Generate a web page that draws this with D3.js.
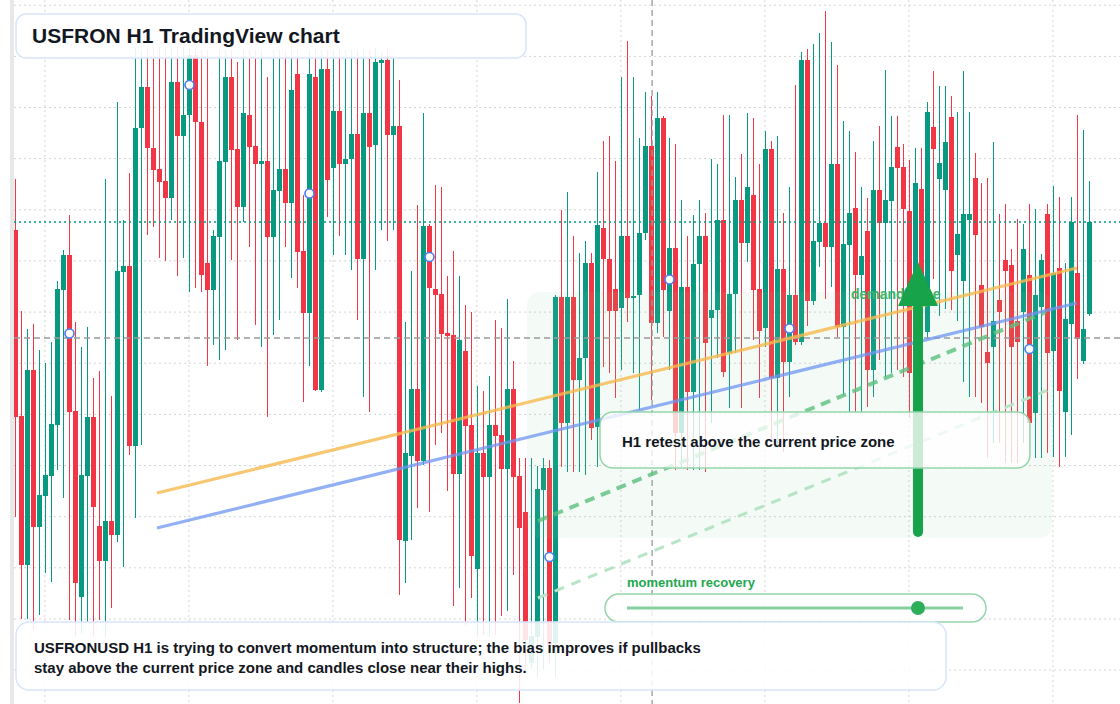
<!DOCTYPE html>
<html><head><meta charset="utf-8">
<script src="https://cdn.jsdelivr.net/npm/d3@7"></script>
<style>
html,body{margin:0;padding:0;background:#fff;overflow:hidden}
svg{display:block}
text{font-family:"Liberation Sans",Arial,Helvetica,sans-serif}
</style>
</head><body>
<svg id="chart" width="1120" height="704"></svg>
<script>
// ---- data (price units) ----
const open=[480,294,145,340,183,214,234,285,420,455, 299,113,234,293,184,149,189,175,438,444,
264,582,623,562,541,529,512,628,574,595, 655,588,447,420,473,548,633,561,503,595,
564,546,549,473,519,541,507,636,459,397, 633,320,641,542,599,546,551,576,451,597,
565,647,650,575,584,169,254,321,249,484, 421,416,377,375,236,359,285,141,257,233,
285,275,241,321,234,198,47,73,220,242, 67,413,287,413,330,352,447,283,482,451,
421,402,474,412,415,477,564,387,592,399, 462,277,423,318,446,474,392,400,490,357,
416,510,467,515,421,382,561,332,441,348, 415,368,650,409,468,487,463,546,383,465,
502,435,479,340,520,487,509,563,543,499, 420,521,378,583,531,520,593,455,429,490,
532,425,358,363,410,450,445,389,398,435, 297,403,496,359,442,298,386,437,349,396];
const high=[531,399,381,386,360,347,368,429,460,495, 388,363,383,332,339,531,314,608,490,537,
662,660,662,663,663,663,663,663,663,662, 662,660,660,480,660,660,660,648,660,660,
660,660,633,660,660,660,660,660,515,660, 660,660,660,660,660,660,660,660,660,660,
662,658,660,652,630,388,439,505,597,486, 525,523,434,459,434,405,398,324,319,334,
390,382,411,349,252,252,252,244,252,250, 415,500,518,474,457,469,457,538,569,574,
549,633,669,633,572,618,614,618,594,572, 566,510,474,495,510,497,551,546,595,595,
533,556,597,592,546,579,569,574,497,523, 625,658,661,666,677,699,668,645,589,579,
558,523,512,569,584,640,594,594,566,550, 562,562,608,639,624,624,614,598,639,598,
557,527,532,568,496,506,461,491,486,506, 501,456,506,524,513,447,513,595,580,529];
const low=[193,91,91,79,95,137,128,240,212,90, 74,77,88,73,90,73,102,168,143,255,
192,265,475,483,452,449,490,434,452,418, 422,418,344,365,350,360,450,370,488,463,
385,363,293,375,390,463,432,422,308,344, 319,318,493,455,474,455,440,390,313,298,
440,480,469,480,115,127,170,202,245,198, 265,277,219,104,122,85,112,73,75,73,
75,94,99,135,7,40,42,33,40,47, 33,243,238,238,238,235,270,243,343,337,
312,340,388,337,300,470,310,377,373,340, 240,243,240,240,240,238,287,352,333,302,
357,302,448,370,312,363,270,262,258,313, 365,365,384,405,443,411,423,373,315,298,
298,298,303,313,350,333,337,340,333,292, 290,310,372,431,394,401,400,389,328,313,
313,307,252,267,267,247,247,247,267,252, 252,252,257,253,243,253,275,331,346,394];
const close=[293,145,340,183,215,235,286,421,455,298, 127,235,293,203,149,189,175,439,444,264,
582,623,562,540,528,512,628,574,595,655, 588,435,420,474,549,633,560,503,597,563,
546,549,473,520,541,507,620,458,397,636, 320,641,530,599,546,551,576,451,597,563,
648,650,575,584,170,257,321,249,484,422, 415,376,374,236,370,284,154,257,233,285,
274,241,321,233,182,70,74,221,242,64, 413,287,413,330,352,447,282,485,451,399,
399,474,412,414,477,564,387,592,420,462, 277,423,318,446,474,367,400,490,338,416,
510,467,523,420,379,561,332,441,348,415, 368,650,409,469,487,463,546,383,466,497,
435,454,340,520,487,510,543,542,501,337, 527,410,598,561,547,568,439,476,496,496,
475,383,347,389,398,439,363,368,461,287, 415,450,357,437,319,391,488,371,381,488];

const gridPrices=[704.8,653.6,602.5,551.4,500.2,449.1,397.9,346.8,295.6,244.5,193.3,142.2,91,39.9];
const gridIdx=[4.9,28.9,52.9,76.9,100.9,124.9,148.9,172.9];
const markerIdx=[9,29,49,69,89,109,129,149,169];
const currentPrice=488;      // teal dotted
const crossPrice=372;        // gray dashed horizontal
const crossIdx=106.1;        // gray dashed vertical
const orangeLine=[[23.58,217],[176.9,442]];
const blueLine=[[23.58,182],[176.9,407]];
const dashLine=[[87.08,189],[171.75,398]];
const lightDash=[[87.08,112],[172.08,320]];
const zoneIdx=[85.25,172.75], zonePrice=[418,172];
const arrowIdx=150.42, arrowPrice=[178,404,448];

const titleText="USFRON H1 TradingView chart";
const noteLines=["USFRONUSD H1 is trying to convert momentum into structure; the bias improves if pullbacks",
"stay above the current price zone and candles close near their highs."];
const calloutText="H1 retest above the current price zone";
const zoneLabel="demand zone";
const momentumLabel="momentum recovery";

// ---- scales ----
const W=1120,H=704;
const x=d3.scaleLinear().domain([0,179]).range([15.5,1089.5]);
const y=d3.scaleLinear().domain([0,710]).range([710,0]);
const GREEN="#089981", RED="#f23645";

const svg=d3.select("#chart");
svg.append("rect").attr("width",W).attr("height",H).attr("fill","#fff");
const defs=svg.append("defs");
defs.append("clipPath").attr("id","plot").append("rect").attr("x",14).attr("y",0).attr("width",W-14).attr("height",H);

const plot=svg.append("g").attr("clip-path","url(#plot)");

// grid
plot.append("g").selectAll("line").data(gridPrices).join("line")
  .attr("x1",14).attr("x2",W).attr("y1",d=>y(d)).attr("y2",d=>y(d))
  .attr("stroke","#d4d4d4").attr("stroke-width",1).attr("stroke-dasharray","2 3");
plot.append("g").selectAll("line").data(gridIdx).join("line")
  .attr("x1",d=>x(d)).attr("x2",d=>x(d)).attr("y1",0).attr("y2",H)
  .attr("stroke","#d4d4d4").attr("stroke-width",1).attr("stroke-dasharray","2 3");

// candles
const idx=d3.range(open.length);
const cg=plot.append("g");
cg.selectAll("line.w").data(idx).join("line").attr("class","w")
  .attr("x1",i=>x(i)).attr("x2",i=>x(i))
  .attr("y1",i=>y(high[i])).attr("y2",i=>y(low[i]))
  .attr("stroke",i=>close[i]>=open[i]?GREEN:RED).attr("stroke-width",1);
const bw=5;
cg.selectAll("rect.b").data(idx).join("rect").attr("class","b")
  .attr("x",i=>x(i)-bw/2).attr("width",bw)
  .attr("y",i=>y(Math.max(open[i],close[i])))
  .attr("height",i=>Math.max(1.5,Math.abs(y(open[i])-y(close[i]))))
  .attr("fill",i=>close[i]>=open[i]?GREEN:RED);

// demand zone overlay
plot.append("rect").attr("x",x(zoneIdx[0])).attr("y",y(zonePrice[0]))
  .attr("width",x(zoneIdx[1])-x(zoneIdx[0])).attr("height",y(zonePrice[1])-y(zonePrice[0]))
  .attr("rx",13).attr("fill","#86d7a0").attr("fill-opacity",0.09);

// reference lines
plot.append("line").attr("x1",14).attr("x2",W).attr("y1",y(currentPrice)).attr("y2",y(currentPrice))
  .attr("stroke",GREEN).attr("stroke-width",1.5).attr("stroke-dasharray","2 3");
plot.append("line").attr("x1",14).attr("x2",W).attr("y1",y(crossPrice)).attr("y2",y(crossPrice))
  .attr("stroke","#9b9b9b").attr("stroke-width",1.3).attr("stroke-dasharray","6 4");
plot.append("line").attr("x1",x(crossIdx)).attr("x2",x(crossIdx)).attr("y1",0).attr("y2",H)
  .attr("stroke","#9b9b9b").attr("stroke-width",1.3).attr("stroke-dasharray","6 4");

// trend lines
const lg=d3.line().x(d=>x(d[0])).y(d=>y(d[1]));
plot.append("path").attr("d",lg(lightDash)).attr("fill","none").attr("stroke","#b7e4c6")
  .attr("stroke-width",3).attr("stroke-dasharray","10 8");
plot.append("path").attr("d",lg(dashLine)).attr("fill","none").attr("stroke","#5dbf7e").attr("stroke-opacity",0.8)
  .attr("stroke-width",4).attr("stroke-dasharray","10 7");
plot.append("path").attr("d",lg(orangeLine)).attr("fill","none").attr("stroke","#f6b94f").attr("stroke-opacity",0.8)
  .attr("stroke-width",3.2);
plot.append("path").attr("d",lg(blueLine)).attr("fill","none").attr("stroke","#6f95f2").attr("stroke-opacity",0.75)
  .attr("stroke-width",3.2);

// markers
plot.append("g").selectAll("circle").data(markerIdx).join("circle")
  .attr("cx",i=>x(i)).attr("cy",i=>y((open[i]+close[i])/2)).attr("r",4.5)
  .attr("fill","#fff").attr("stroke","#4d7ef3").attr("stroke-width",1.7);

// zone label
svg.append("text").attr("x",851).attr("y",299).text(zoneLabel)
  .attr("font-size",14).attr("font-weight","bold").attr("fill","#3bb26a");

// arrow
const ax=x(arrowIdx);
svg.append("line").attr("x1",ax).attr("x2",ax).attr("y1",y(arrowPrice[0])).attr("y2",y(arrowPrice[1])+2)
  .attr("stroke","#16a34a").attr("stroke-width",10).attr("stroke-linecap","round");
svg.append("path").attr("d",`M${ax},${y(arrowPrice[2])}L${ax+20},${y(arrowPrice[1])}L${ax-20},${y(arrowPrice[1])}Z`)
  .attr("fill","#16a34a");

// left strip
svg.append("rect").attr("x",10).attr("y",0).attr("width",4).attr("height",H).attr("fill","#e8e8e8");

// title box
svg.append("rect").attr("x",16).attr("y",14).attr("width",510).attr("height",44).attr("rx",10)
  .attr("fill","#fff").attr("fill-opacity",0.9).attr("stroke","#d9e5fb").attr("stroke-width",1.5);
svg.append("text").attr("x",32).attr("y",43).text(titleText)
  .attr("font-size",21).attr("font-weight","bold").attr("fill","#131722");

// callout box
svg.append("rect").attr("x",600).attr("y",412).attr("width",430).attr("height",56).attr("rx",13)
  .attr("fill","#fff").attr("fill-opacity",0.78).attr("stroke","#94d6aa").attr("stroke-width",1.5);
svg.append("text").attr("x",622).attr("y",447).text(calloutText)
  .attr("font-size",15).attr("font-weight","bold").attr("fill","#131722");

// momentum pill
svg.append("text").attr("x",627).attr("y",587).text(momentumLabel)
  .attr("font-size",13).attr("font-weight","bold").attr("fill","#22a84f");
svg.append("rect").attr("x",605).attr("y",594).attr("width",381).attr("height",28).attr("rx",14)
  .attr("fill","#fff").attr("fill-opacity",0.8).attr("stroke","#94d6aa").attr("stroke-width",1.5);
svg.append("line").attr("x1",627).attr("x2",963).attr("y1",608).attr("y2",608)
  .attr("stroke","#86cf9f").attr("stroke-width",3);
svg.append("circle").attr("cx",918).attr("cy",608).attr("r",7).attr("fill","#2fae5a");

// note box
svg.append("rect").attr("x",16).attr("y",622).attr("width",930).attr("height",68).attr("rx",13)
  .attr("fill","#fff").attr("fill-opacity",0.88).attr("stroke","#d9e5fb").attr("stroke-width",1.5);
svg.append("g").selectAll("text").data(noteLines).join("text")
  .attr("x",34).attr("y",(d,i)=>653+i*20).text(d=>d)
  .attr("font-size",15).attr("font-weight","bold").attr("fill","#131722");
</script>
</body></html>
